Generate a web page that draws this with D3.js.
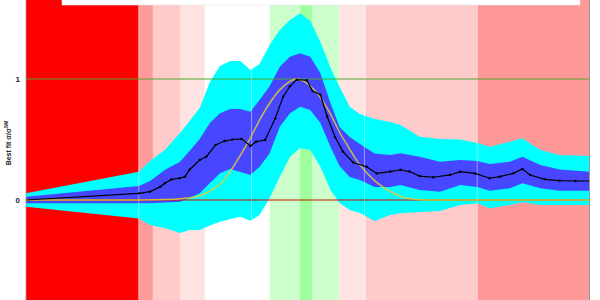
<!DOCTYPE html>
<html>
<head>
<meta charset="utf-8">
<script src="https://cdn.jsdelivr.net/npm/d3@7"></script>
<style>
  body { margin: 0; background: #fff; }
  svg { display: block; font-family: "Liberation Sans", Arial, sans-serif; }
</style>
</head>
<body>
<svg id="chart" width="600" height="300"></svg>
<script>
// background significance regions: [from, to, colour]
const regionEdges = [110, 120, 121.25, 123.65, 125.85, 131.6, 134.3, 135.35, 137.8, 140.1, 150, 160];
const regionColors = ["#ff0000", "#ff9b9b", "#ffcaca", "#ffe2e2", "#ffffff", "#ccffcc",
                      "#9dff9d", "#ccffcc", "#ffe2e2", "#ffcaca", "#ff9999"];

// best fit mu
const fitMass = [110, 120, 121, 121.9, 122.3, 122.9, 123.6, 124.1, 124.5, 125.4, 126.0, 126.8,
  127.6, 128.3, 129.1, 129.9, 130.4, 131.2, 132.1, 132.8, 133.4, 134.0, 134.9, 135.4, 136.1,
  136.7, 137.4, 138.1, 139.0, 140.2, 141.1, 142.3, 143.2, 144.0, 144.9, 146.1, 147.6, 148.5,
  149.8, 151.1, 152.0, 153.2, 154.0, 154.7, 156.0, 157.3, 158.7, 160];
const fitMu = [0, 0.055, 0.069, 0.11, 0.139, 0.17, 0.18, 0.193, 0.25, 0.33, 0.36, 0.455,
  0.487, 0.5, 0.505, 0.446, 0.482, 0.496, 0.675, 0.854, 0.94, 0.995, 0.99, 0.9, 0.87,
  0.69, 0.52, 0.4, 0.31, 0.275, 0.22, 0.235, 0.25, 0.235, 0.198, 0.188, 0.207, 0.234,
  0.22, 0.18, 0.193, 0.22, 0.256, 0.207, 0.171, 0.16, 0.157, 0.157];

// uncertainty bands
const bandMass = [110, 120, 121, 122.3, 123.65, 124.5, 125.4, 126.3, 127.2, 128.1, 129.0, 129.9,
  130.7, 131.6, 132.5, 133.4, 134.3, 135.2, 136.1, 137.0, 137.8, 138.7, 139.6, 140.9, 142.3,
  143.2, 144.9, 146.7, 148.5, 150.0, 151.1, 152.9, 154.0, 155.6, 157.3, 160];
const hi2 = [0.055, 0.234, 0.322, 0.413, 0.554, 0.653, 0.76, 0.975, 1.107, 1.149, 1.149, 1.074,
  1.124, 1.28, 1.405, 1.488, 1.543, 1.479, 1.306, 1.091, 0.936, 0.771, 0.711, 0.669, 0.645,
  0.62, 0.523, 0.504, 0.5, 0.471, 0.44, 0.482, 0.51, 0.413, 0.372, 0.364];
const hi1 = [0.027, 0.116, 0.157, 0.248, 0.316, 0.405, 0.504, 0.636, 0.716, 0.752, 0.752, 0.73,
  0.826, 0.94, 1.102, 1.184, 1.212, 1.184, 1.047, 0.799, 0.603, 0.52, 0.463, 0.384, 0.372,
  0.386, 0.358, 0.316, 0.331, 0.322, 0.298, 0.316, 0.358, 0.289, 0.252, 0.234];
const lo1 = [-0.027, -0.027, -0.027, -0.021, -0.014, 0.017, 0.055, 0.14, 0.221, 0.256, 0.231, 0.207,
  0.273, 0.386, 0.606, 0.717, 0.771, 0.744, 0.636, 0.438, 0.281, 0.19, 0.165, 0.107, 0.107,
  0.124, 0.083, 0.069, 0.124, 0.107, 0.077, 0.097, 0.138, 0.097, 0.077, 0.077];
const lo2 = [-0.055, -0.152, -0.207, -0.231, -0.273, -0.248, -0.248, -0.211, -0.179, -0.157, -0.138, -0.171,
  -0.124, 0.017, 0.193, 0.358, 0.43, 0.413, 0.275, 0.083, -0.025, -0.083, -0.107, -0.174, -0.124,
  -0.11, -0.099, -0.091, -0.041, -0.027, -0.069, -0.041, -0.019, -0.041, -0.041, -0.041];

// expected signal shape
const sigMass = [110, 120, 122.5, 123.65, 125.4, 126.6, 127.6, 128.2, 129.7, 131.0, 132.5, 134.0,
  135.5, 137.0, 137.8, 138.5, 139.6, 140.9, 142.3, 143.8, 145.5, 160];
const sigMu = [0, 0, 0.004, 0.01, 0.035, 0.09, 0.17, 0.25, 0.48, 0.71, 0.91, 1.0,
  0.915, 0.71, 0.56, 0.45, 0.29, 0.16, 0.07, 0.015, 0, 0];

const gridMass = [120, 130, 140, 150];
const yTicks = [0, 1];

const svg = d3.select("#chart");
const x = d3.scaleLinear().domain([110, 160]).range([26, 590]);
const y = d3.scaleLinear().domain([0, 1]).range([200, 79]);
const g = svg.append("g");

// background regions
g.selectAll("rect.region")
  .data(regionColors)
  .join("rect")
  .attr("class", "region")
  .attr("x", (d, i) => x(regionEdges[i]))
  .attr("width", (d, i) => x(regionEdges[i + 1]) - x(regionEdges[i]))
  .attr("y", 0)
  .attr("height", 300)
  .attr("fill", d => d);

const bands = bandMass.map((m, i) => ({ m, hi2: hi2[i], hi1: hi1[i], lo1: lo1[i], lo2: lo2[i] }));

function band(lo, hi) {
  return d3.area()
    .x(d => x(d.m))
    .y0(d => y(d[lo]))
    .y1(d => y(d[hi]));
}

g.append("path").attr("d", band("lo2", "hi2")(bands)).attr("fill", "#00ffff");
g.append("path").attr("d", band("lo1", "hi1")(bands)).attr("fill", "#4747ff");

// faint grid lines
g.selectAll("line.grid")
  .data(gridMass)
  .join("line")
  .attr("class", "grid")
  .attr("x1", d => x(d)).attr("x2", d => x(d))
  .attr("y1", 0).attr("y2", 300)
  .attr("stroke", "#ffffff")
  .attr("stroke-opacity", 0.45)
  .attr("stroke-width", 1);

// reference lines at 0 and 1
g.append("line")
  .attr("x1", x(110)).attr("x2", x(160))
  .attr("y1", y(1)).attr("y2", y(1))
  .attr("stroke", "#4aa82a").attr("stroke-opacity", 0.65).attr("stroke-width", 1.6);
g.append("line")
  .attr("x1", x(110)).attr("x2", x(160))
  .attr("y1", y(0)).attr("y2", y(0))
  .attr("stroke", "#c81e00").attr("stroke-opacity", 0.7).attr("stroke-width", 1.6);

// expected signal
const sig = sigMass.map((m, i) => ({ m, v: sigMu[i] }));
g.append("path")
  .attr("d", d3.line().x(d => x(d.m)).y(d => y(d.v)).curve(d3.curveMonotoneX)(sig))
  .attr("fill", "none")
  .attr("stroke", "#e2cc30")
  .attr("stroke-opacity", 0.85)
  .attr("stroke-width", 1.5);

// best fit line + markers
const fit = fitMass.map((m, i) => ({ m, v: fitMu[i] }));
g.append("path")
  .attr("d", d3.line().x(d => x(d.m)).y(d => y(d.v))(fit))
  .attr("fill", "none")
  .attr("stroke", "#000")
  .attr("stroke-width", 1.2);
g.selectAll("circle.pt")
  .data(fit.slice(1, -1))
  .join("circle")
  .attr("class", "pt")
  .attr("cx", d => x(d.m))
  .attr("cy", d => y(d.v))
  .attr("r", 1.2)
  .attr("fill", "#000");

// frame
g.append("line").attr("x1", 26).attr("x2", 26).attr("y1", 0).attr("y2", 300)
  .attr("stroke", "#999").attr("stroke-width", 0.8);
g.append("rect").attr("x", 590).attr("y", 0).attr("width", 10).attr("height", 300)
  .attr("fill", "#fff");
g.append("line").attr("x1", 589.5).attr("x2", 589.5).attr("y1", 0).attr("y2", 300)
  .attr("stroke", "#999").attr("stroke-width", 1);

// legend box (cut off at top)
g.append("rect")
  .attr("x", 62).attr("y", -10).attr("width", 518).attr("height", 15)
  .attr("fill", "#fff").attr("stroke", "#e4e4e4").attr("stroke-width", 0.6);

// y axis
const yAxis = svg.append("g")
  .attr("transform", "translate(26,0)")
  .call(d3.axisLeft(y).tickValues(yTicks).tickSize(0).tickPadding(6).tickFormat(d3.format("d")));
yAxis.select(".domain").remove();
yAxis.selectAll("text")
  .attr("font-size", 8)
  .attr("font-weight", "bold")
  .attr("font-family", "Liberation Sans, Arial, sans-serif")
  .attr("fill", "#222");

const ylab = svg.append("text")
  .attr("transform", "translate(11,143) rotate(-90)")
  .attr("text-anchor", "middle")
  .attr("font-size", 7)
  .attr("font-weight", "bold")
  .attr("fill", "#222");
ylab.append("tspan").text("Best fit σ/σ");
ylab.append("tspan").attr("dy", -3).attr("font-size", 5).text("SM");
</script>
</body>
</html>
